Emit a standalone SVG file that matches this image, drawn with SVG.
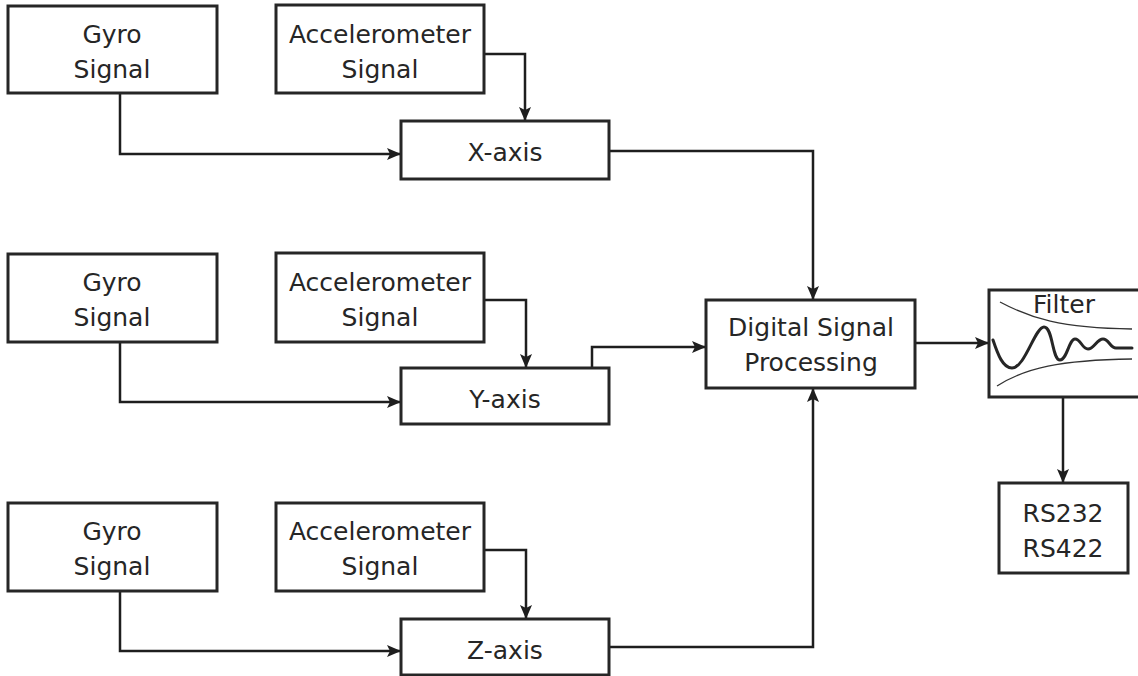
<svg xmlns="http://www.w3.org/2000/svg" width="1138" height="676" viewBox="0 0 1138 676">
<defs>
<marker id="ah" markerUnits="userSpaceOnUse" markerWidth="16" markerHeight="14" refX="14" refY="6" orient="auto">
<path d="M0,0 L14,6 L0,12 L3,6 z" fill="#1e1e1e"/>
</marker>
<style>
.box{fill:#fff;stroke:#262626;stroke-width:3}
.t{font-family:"DejaVu Sans",Verdana,sans-serif;font-size:25px;fill:#262626;text-anchor:middle}
.c{fill:none;stroke:#1e1e1e;stroke-width:2.5;marker-end:url(#ah)}
.thin{fill:none;stroke:#333;stroke-width:1.3}
.wave{fill:none;stroke:#262626;stroke-width:3;stroke-linecap:round}
</style>
</defs>
<rect width="1138" height="676" fill="#fff"/>
<g id="connectors">
<path class="c" d="M120,93 V154 H401"/>
<path class="c" d="M484,54 H525 V121"/>
<path class="c" d="M609,151 H813 V300"/>
<path class="c" d="M120,342 V402 H401"/>
<path class="c" d="M484,300 H526 V368"/>
<path class="c" d="M592,368 V347 H706"/>
<path class="c" d="M120,591 V651 H401"/>
<path class="c" d="M484,550 H526 V619"/>
<path class="c" d="M609,647 H813 V388"/>
<path class="c" d="M915,343 H989"/>
<path class="c" d="M1063,397 V483"/>
</g>
<g id="gyro1"><rect class="box" x="8" y="6" width="209" height="87"/><text class="t" x="112" y="43">Gyro</text><text class="t" x="112" y="78">Signal</text></g>
<g id="accel1"><rect class="box" x="276" y="5" width="208" height="88"/><text class="t" x="380" y="43">Accelerometer</text><text class="t" x="380" y="78">Signal</text></g>
<g id="xaxis"><rect class="box" x="401" y="121" width="208" height="58"/><text class="t" x="505" y="161">X-axis</text></g>
<g id="gyro2"><rect class="box" x="8" y="254" width="209" height="88"/><text class="t" x="112" y="291">Gyro</text><text class="t" x="112" y="326">Signal</text></g>
<g id="accel2"><rect class="box" x="276" y="253" width="208" height="89"/><text class="t" x="380" y="291">Accelerometer</text><text class="t" x="380" y="326">Signal</text></g>
<g id="yaxis"><rect class="box" x="401" y="368" width="208" height="56"/><text class="t" x="505" y="408">Y-axis</text></g>
<g id="gyro3"><rect class="box" x="8" y="503" width="209" height="88"/><text class="t" x="112" y="540">Gyro</text><text class="t" x="112" y="575">Signal</text></g>
<g id="accel3"><rect class="box" x="276" y="503" width="208" height="88"/><text class="t" x="380" y="540">Accelerometer</text><text class="t" x="380" y="575">Signal</text></g>
<g id="zaxis"><rect class="box" x="401" y="619" width="208" height="56"/><text class="t" x="505" y="659">Z-axis</text></g>
<g id="dsp"><rect class="box" x="706" y="300" width="209" height="88"/><text class="t" x="811" y="336">Digital Signal</text><text class="t" x="811" y="371">Processing</text></g>
<g id="filter"><rect class="box" x="989" y="290" width="152" height="107"/>
<path class="thin" d="M1000,302 C1030,318 1060,328 1132,329"/>
<path class="thin" d="M997,386 C1025,368 1060,360 1132,359"/>
<path class="wave" d="M993,340 C998,355 1003,368 1012,368 C1025,368 1035,327 1044,327 C1053,327 1052,360 1060,360 C1067,360 1069,339 1075,339 C1081,339 1082,349 1088,349 C1094,349 1097,339 1103,339 C1109,339 1110,348 1116,348 L1132,348"/>
<text class="t" x="1064" y="313">Filter</text></g>
<g id="rs"><rect class="box" x="999" y="483" width="129" height="90"/><text class="t" x="1063" y="522">RS232</text><text class="t" x="1063" y="557">RS422</text></g>
</svg>
